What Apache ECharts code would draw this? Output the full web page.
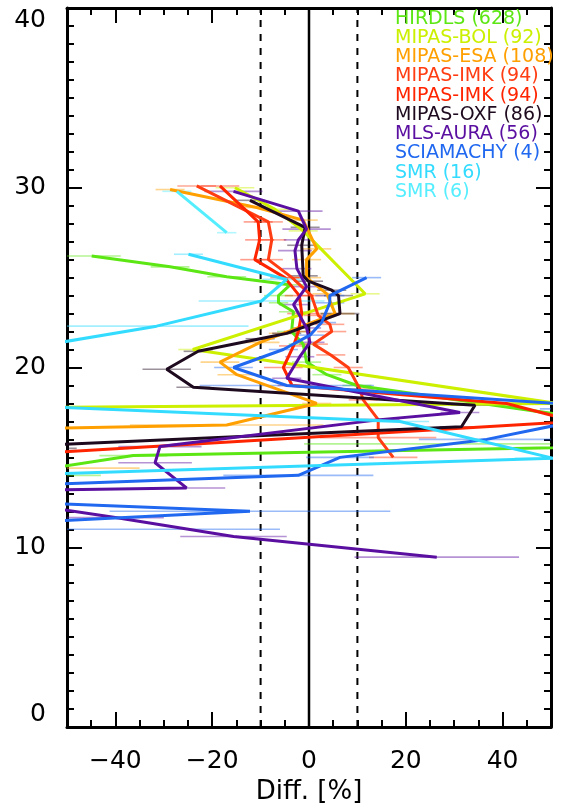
<!DOCTYPE html>
<html>
<head>
<meta charset="utf-8">
<script src="https://cdn.jsdelivr.net/npm/echarts@6/dist/echarts.min.js"></script>
<style>
  html, body { margin: 0; padding: 0; background: #fff; }
  #chart { width: 566px; height: 808px; }
</style>
</head>
<body>
<div id="chart"></div>
<script>
// Profiles of relative difference vs altitude: [difference %, altitude km, error %]
const hirdls = [[-44.9,26.2,6],[-28.7,25.6,4],[-17.0,25.05,4],[-3.9,24.6,3],[-6.3,24.0,3],[-6.3,23.6,2],[-3.2,23.1,3],[-3.6,22.0,3],[-1.2,21.3,3],[-0.5,20.3,3],[3.7,19.6,3],[9.9,19.0,3],[94,15.75,95],[-36.3,15.1,7],[-63,14.0,20]];
const mipasBol = [[-15.3,30.0,4],[-7.0,28.8,3],[-1.2,27.6,3],[11.6,24.1,3],[-24.0,21.0,3],[51.2,18.0,10],[-90,17.7,10]];
const mipasEsa = [[-28.7,29.9,3],[-10.8,28.9,3],[-1.2,28.2,3],[1.6,26.6,3],[-0.5,26.0,3],[-0.5,25.0,3],[3.7,24.1,3],[5.4,23.0,4],[-5.3,21.9,3],[-10.1,21.4,4],[-18.4,20.3,4],[-14.9,19.6,4],[1.6,18.0,3],[-17.0,16.8,20],[-80,16.5,10],[-75,14.4,40]];
const mipasImkA = [[-23.2,30.1,4],[-8.4,28.1,3],[-7.7,27.1,3],[-8.4,26.0,3],[-3.5,25.0,3],[0.5,24.0,3],[1.9,22.9,3],[4.3,22.4,3],[4.7,22.0,3],[0.9,21.3,3],[4.5,20.7,3],[8.1,20.0,3],[10.5,18.8,3],[11.2,18.2,3],[14.3,17.1,3],[14.3,16.1,12],[17.4,15.0,5]];
const mipasImkB = [[-18.4,30.1,4],[-10.5,28.1,3],[-10.2,27.1,3],[-11.2,26.0,3],[-5.0,25.0,3],[-2.0,24.0,3],[-1.5,23.0,3],[-2.2,22.0,3],[-3.2,21.2,3],[-5.3,20.0,4],[-3.5,19.0,3],[40.8,18.0,5],[55,17.0,5],[-70,15.0,5]];
const mipasOxf = [[-12.2,29.3,3],[-0.8,27.8,3],[-1.5,26.8,3],[-1.2,25.1,3],[-0.1,24.8,3],[4.7,24.3,3],[6.1,24.0,3],[6.4,23.0,4],[-4.6,21.9,3],[-10.1,21.6,3],[-22.9,20.9,3],[-29.4,19.9,5],[-23.9,18.9,3.5],[34.3,17.9,5],[31.5,16.7,4.5],[-70,15.5,22]];
const mlsAura = [[-15.6,29.8,6],[-2.2,28.7,5],[-0.5,27.7,5],[-2.2,27.1,3],[-2.9,26.5,3.5],[-2.5,25.5,3],[-0.5,24.5,3],[-3.2,23.5,3],[-0.5,22.2,3],[0.2,21.4,3],[-1.9,20.6,3],[-4.6,19.4,3],[31.2,17.5,4],[14.7,17.1,4],[-30.8,15.6,8.6],[-31.8,14.7,7.6],[-25.3,13.3,8],[-76,13.1,10],[-40,11.65,10],[-15.6,10.6,11],[26.4,9.45,17]];
const sciamachy = [[11.9,25.0,3],[4.3,24.0,3],[4.3,23.6,3],[2.6,22.5,3],[0.2,21.8,3],[-5.3,21.0,3],[-15.6,20.0,4],[-4.6,19.0,18],[67.7,17.7,20],[36.7,16.0,14],[6.4,15.0,7],[-2.2,14.0,15.5],[-105,13.0,10],[-12.2,12.0,29],[-86,11.0,80]];
const smr16 = [[-24.9,26.3,3],[-4.6,24.9,5],[-9.8,23.7,13],[-31.5,22.3,19],[-115,18.5,10],[18.8,17.0,6],[50.5,14.95,8],[-62,14.0,10]];
const smr6 = [[-27.3,29.8,3],[-17.0,27.5,2]];

const legendLabels = ['HIRDLS (628)','MIPAS-BOL (92)','MIPAS-ESA (108)','MIPAS-IMK (94)','MIPAS-IMK (94)','MIPAS-OXF (86)','MLS-AURA (56)','SCIAMACHY (4)','SMR (16)','SMR (6)'];

// Axis ticks and reference lines
const xMajorTicks = [-40, -20, 0, 20, 40];
const xMinorTicks = [-45, -35, -30, -25, -15, -10, -5, 5, 10, 15, 25, 30, 35, 45];
const yMajorTicks = [0, 10, 20, 30, 40];
const yMinorTicks = [];
for (let a = 1; a < 40; a++) { if (a % 10 !== 0) yMinorTicks.push(a); }
const solidRef = [0];
const dashedRef = [-10, 10];
const xTitle = 'Diff. [%]';

const FONT = '"DejaVu Sans", sans-serif';
const profiles = [
  { data: hirdls,    color: '#5ce614' },
  { data: mipasBol,  color: '#ccf000' },
  { data: mipasEsa,  color: '#ffa000' },
  { data: mipasImkA, color: '#ff3c12' },
  { data: mipasImkB, color: '#ff2400' },
  { data: mipasOxf,  color: '#1e0a1e' },
  { data: mlsAura,   color: '#5a0fa0' },
  { data: sciamachy, color: '#2068f0' },
  { data: smr16,     color: '#33dcff' },
  { data: smr6,      color: '#55eeff' }
];

function fmtX(v) { return v < 0 ? '\u2212' + Math.abs(v) : String(v); }

function mkX(position, ticks, len, showLabel, showLine, extra) {
  return Object.assign({
    type: 'value', gridIndex: 0, position: position, min: -50, max: 50,
    axisLine: { show: showLine, onZero: false, lineStyle: { color: '#000', width: 3 } },
    axisTick: { show: true, inside: true, length: len, customValues: ticks, lineStyle: { color: '#000', width: 2 } },
    axisLabel: { show: showLabel, customValues: ticks, formatter: fmtX, fontFamily: FONT, fontSize: 25, color: '#000', margin: 22 },
    splitLine: { show: false }
  }, extra || {});
}
function mkY(position, ticks, len, showLabel, showLine) {
  return {
    type: 'value', gridIndex: 0, position: position, min: 0, max: 40,
    axisLine: { show: showLine, onZero: false, lineStyle: { color: '#000', width: 3 } },
    axisTick: { show: true, inside: true, length: len, customValues: ticks, lineStyle: { color: '#000', width: 2 } },
    axisLabel: { show: showLabel, customValues: ticks, fontFamily: FONT, fontSize: 25, color: '#000', margin: 21,
                 verticalAlignMinLabel: 'bottom', verticalAlignMaxLabel: 'top' },
    splitLine: { show: false }
  };
}

const series = [];
// reference lines at 0 and ±10 %
solidRef.forEach(v => series.push({
  type: 'line', data: [[v, 0], [v, 40]], symbol: 'none', silent: true, z: 1,
  lineStyle: { color: '#000', width: 2.5 }
}));
dashedRef.forEach(v => series.push({
  type: 'line', data: [[v, 0], [v, 40]], symbol: 'none', silent: true, z: 1,
  lineStyle: { color: '#000', width: 2, type: [7, 7] }
}));
// error bars (light horizontal strokes)
profiles.forEach(p => series.push({
  type: 'custom', clip: true, z: 2, silent: true,
  data: p.data,
  renderItem: function (params, api) {
    const v = api.value(0), a = api.value(1), e = api.value(2);
    const p1 = api.coord([v - e, a]);
    const p2 = api.coord([v + e, a]);
    return { type: 'line', shape: { x1: p1[0], y1: p1[1], x2: p2[0], y2: p2[1] },
             style: { stroke: p.color, lineWidth: 1.6, opacity: 0.45 } };
  }
}));
// profile lines
profiles.forEach(p => series.push({
  type: 'line', data: p.data.map(d => [d[0], d[1]]), symbol: 'none', clip: true, z: 3,
  lineStyle: { color: p.color, width: 3 }
}));

const legendGraphics = legendLabels.map((t, i) => ({
  type: 'text', x: 395, y: 18.7 + i * 19.25, z: 10,
  style: { text: t, fill: profiles[i].color, fontFamily: FONT, fontSize: 19, verticalAlign: 'middle', align: 'left' }
}));

const chart = echarts.init(document.getElementById('chart'), null, { renderer: 'canvas' });
chart.setOption({
  animation: false,
  backgroundColor: '#fff',
  grid: { left: 67, right: 15, top: 8, bottom: 81, outerBoundsMode: 'none', containLabel: false },
  xAxis: [
    mkX('bottom', xMajorTicks, 15, true, true, {
      name: xTitle, nameLocation: 'middle', nameGap: 52,
      nameTextStyle: { fontFamily: FONT, fontSize: 26, color: '#000' }
    }),
    mkX('bottom', xMinorTicks, 7, false, false),
    mkX('top', xMajorTicks, 15, false, true),
    mkX('top', xMinorTicks, 7, false, false)
  ],
  yAxis: [
    mkY('left', yMajorTicks, 15, true, true),
    mkY('left', yMinorTicks, 7, false, false),
    mkY('right', yMajorTicks, 15, false, true),
    mkY('right', yMinorTicks, 7, false, false)
  ],
  graphic: legendGraphics,
  series: series
});
</script>
</body>
</html>
